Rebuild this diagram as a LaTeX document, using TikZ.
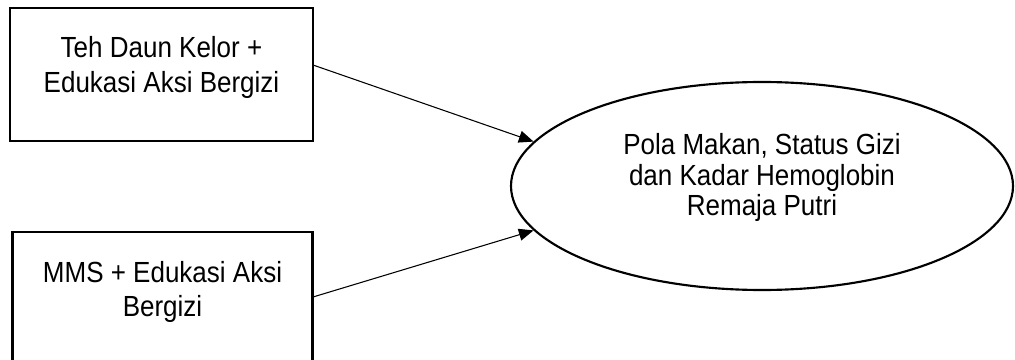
\documentclass[tikz,border=0pt]{standalone}
\usepackage{fontspec}
\setmainfont{Liberation Sans}
\usetikzlibrary{arrows.meta,shapes.geometric}
\begin{document}
\begin{tikzpicture}[x=0.75pt,y=-0.75pt,
  boxframe/.style={draw=black,line width=1.6pt},
  label/.style={align=center,inner sep=0pt,yscale=1.12,transform shape},
  boxtext/.style={label,font=\fontsize{19.5pt}{23pt}\selectfont},
  elltext/.style={label,font=\fontsize{19.5pt}{20.5pt}\selectfont},
  conn/.style={draw=black,line width=0.8pt,-{Triangle[length=11pt,width=9pt]}}]
\useasboundingbox (0,0) rectangle (1015,360);
\begin{scope}
\clip (0,0) rectangle (1015,360);
\node[boxframe,rectangle,minimum width=303*0.75pt,minimum height=133*0.75pt,inner sep=0pt] (b1) at (161.5,74.5) {};
\node[boxframe,rectangle,minimum width=300*0.75pt,minimum height=140*0.75pt,inner sep=0pt] (b2) at (162.5,302) {};
\node[boxframe,ellipse,minimum width=502*0.75pt,minimum height=208*0.75pt,inner sep=0pt] (e) at (762,186) {};
\end{scope}
\node[boxtext] (t1) at (161.5,67.3) {Teh Daun Kelor +\\Edukasi Aksi Bergizi};
\node[boxtext] (t2) at (162.5,292) {MMS + Edukasi Aksi\\Bergizi};
\node[elltext] (t3) at (762,177.5) {Pola Makan, Status Gizi\\dan Kadar Hemoglobin\\Remaja Putri};
\coordinate (s1) at (313,65);
\coordinate (s2) at (313,297);
\draw[conn] (s1) -- (e.169);
\draw[conn] (s2) -- (e.191);
\end{tikzpicture}
\end{document}
